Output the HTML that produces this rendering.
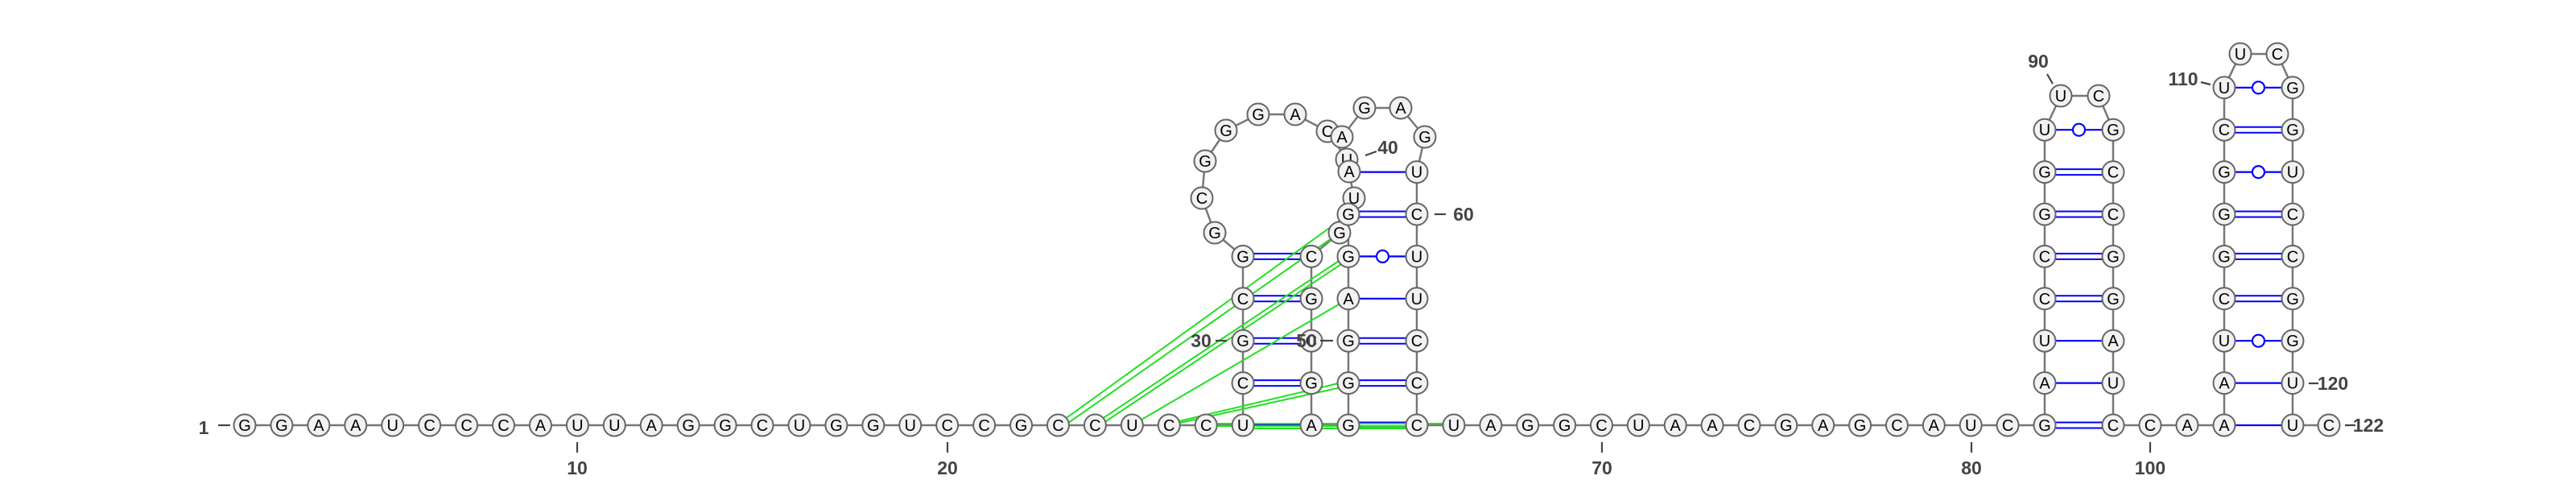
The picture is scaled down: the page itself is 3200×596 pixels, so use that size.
<!DOCTYPE html>
<html><head><meta charset="utf-8"><style>
html,body{margin:0;padding:0;background:#fff;}
svg{display:block;}
text{font-family:"Liberation Sans","DejaVu Sans",sans-serif;}
</style></head><body>
<svg id="svg" width="3200" height="596" viewBox="0 0 3200 596" xmlns="http://www.w3.org/2000/svg">
<g id="bb"></g>
<g id="pairs"></g>
<g id="green"></g>
<g id="nodes"></g>
<g id="labels"></g>
</svg>
<script>
const NS='http://www.w3.org/2000/svg';
const baseSeq="GGAAUCCCAUUAGGCUGGUCCGCCUCCU".split('');
const rowY=[528,475.6,423.2,370.8,318.4,266,213.6,161.2,108.8];
function bx(i){return 304+(i-1)*45.93;}
const N={};
function node(id,x,y,ch){N[id]={x:x,y:y,ch:ch};}
baseSeq.forEach((c,i)=>node('b'+(i+1),bx(i+1),528,c));
// stem1 left column (x=1544) going up
const s1L="CGCG".split('');
s1L.forEach((c,k)=>node('s1L'+k,1544,rowY[k+1],c));
const loop1=[[1509,289,'G'],[1493,246,'C'],[1497,200,'G'],[1523,162,'G'],[1563,142,'G'],[1609,142,'A'],[1649,163,'C']];
loop1.forEach((p,k)=>node('l1_'+k,p[0],p[1],p[2]));
node('u40',1673,198,'U');
node('a41',1667,170,'A');
const loop2=[[1695,134,'G'],[1740,134,'A'],[1770,170,'G']];
loop2.forEach((p,k)=>node('l2_'+k,p[0],p[1],p[2]));
// stem2 right column top->down
const s2R="UCUUCCC".split('');
const s2Ry=[213.6,266,318.4,370.8,423.2,475.6,528];
s2R.forEach((c,k)=>node('s2R'+k,1760,s2Ry[k],c));
// stem1 right column x=1629 top->down
const s1R="CGCGA".split('');
const s1Ry=[318.4,370.8,423.2,475.6,528];
s1R.forEach((c,k)=>node('s1R'+k,1629,s1Ry[k],c));
// stem2 left column x=1675 bottom->up
const s2L="GGGAGG".split('');
s2L.forEach((c,k)=>node('s2L'+k,1675,rowY[k],c));
node('g289',1664,289,'G');
node('a213',1676,213,'A');
node('u246',1682,246,'U');
// baseline after stem2
const mid="UAGGCUAACGAGCAUC".split('');
mid.forEach((c,k)=>node('m'+k,1806+k*45.87,528,c));
// stem3
const s3L="GAUCCGGU".split(''); // bottom-up
s3L.forEach((c,k)=>node('s3L'+k,2540,rowY[k],c));
node('l3_0',2560,119,'U');node('l3_1',2607,119,'C');
const s3R="GCCGGAUC".split(''); // top-down
s3R.forEach((c,k)=>node('s3R'+k,2625,rowY[7-k],c));
node('c100',2671,528,'C');node('a101',2717,528,'A');
const s4L="AAUCGGGCU".split('');
s4L.forEach((c,k)=>node('s4L'+k,2763,rowY[k],c));
node('l4_0',2783,67,'U');node('l4_1',2829,67,'C');
const s4R="GGUCCGGUU".split('');
s4R.forEach((c,k)=>node('s4R'+k,2848,rowY[8-k],c));
node('c122',2893,528,'C');

const chains=[
 [...baseSeq.map((c,i)=>'b'+(i+1)),'s1L0','s1L1','s1L2','s1L3',...loop1.map((p,k)=>'l1_'+k)],
 ['a41','l2_0','l2_1','l2_2','s2R0','s2R1','s2R2','s2R3','s2R4','s2R5','s2R6',...mid.map((c,k)=>'m'+k),
  ...s3L.map((c,k)=>'s3L'+k),'l3_0','l3_1',...s3R.map((c,k)=>'s3R'+k),'c100','a101',...s4L.map((c,k)=>'s4L'+k),'l4_0','l4_1',...s4R.map((c,k)=>'s4R'+k),'c122'],
 ['l1_6','u40','a213','u246','s2L5','s2L4','s2L3','s2L2','s2L1','s2L0'],
 ['a41','u40'],
 ['g289','s1R0','s1R1','s1R2','s1R3','s1R4','s2L0']
];
function line(g,x1,y1,x2,y2,col,w){const l=document.createElementNS(NS,'line');
l.setAttribute('x1',x1);l.setAttribute('y1',y1);l.setAttribute('x2',x2);l.setAttribute('y2',y2);
l.setAttribute('stroke',col);l.setAttribute('stroke-width',w);g.appendChild(l);return l;}
const bb=document.getElementById('bb');
chains.forEach(ch=>{for(let i=0;i<ch.length-1;i++){const a=N[ch[i]],b=N[ch[i+1]];
 const l=line(bb,a.x,a.y,b.x,b.y,'#777',2.5);
 
 }});

// pairs: [leftX,rightX,y,type] type 1 single, 2 double, 3 wobble
const pairList=[
 [1544,1629,528,1],[1544,1629,475.6,2],[1544,1629,423.2,2],[1544,1629,370.8,2],[1544,1629,318.4,2],
 [1675,1760,213.6,1],[1675,1760,266,2],[1675,1760,318.4,3],[1675,1760,370.8,1],[1675,1760,423.2,2],[1675,1760,475.6,2],[1675,1760,528,2],
 [2540,2625,528,2],[2540,2625,475.6,1],[2540,2625,423.2,1],[2540,2625,370.8,2],[2540,2625,318.4,2],[2540,2625,266,2],[2540,2625,213.6,2],[2540,2625,161.2,3],
 [2763,2848,528,1],[2763,2848,475.6,1],[2763,2848,423.2,3],[2763,2848,370.8,2],[2763,2848,318.4,2],[2763,2848,266,2],[2763,2848,213.6,3],[2763,2848,161.2,2],[2763,2848,108.8,3]
];
const pg=document.getElementById('pairs');
pairList.forEach(p=>{
 if(p[3]==2){line(pg,p[0],p[2]-3.5,p[1],p[2]-3.5,'#00f',2);line(pg,p[0],p[2]+3.5,p[1],p[2]+3.5,'#00f',2);}
 else{line(pg,p[0],p[2],p[1],p[2],'#00f',2.2);}
 if(p[3]==3){const c=document.createElementNS(NS,'circle');c.setAttribute('cx',(p[0]+p[1])/2);c.setAttribute('cy',p[2]);
  c.setAttribute('r',7.5);c.setAttribute('fill','#fff');c.setAttribute('stroke','#00f');c.setAttribute('stroke-width',2.2);
  
  
  pg.appendChild(c);}
});
// green pseudoknot lines [x1,y1,x2,y2]
const greenList=[
 [1315,526,1675,266],[1320,530,1664,289],
 [1360,526,1675,316],[1362,531,1675,322],
 [1406,528,1675,371],
 [1452,526,1675,473],[1452,528,1675,479],
 [1498,526,1806,526],[1498,529,1760,529],[1544,532,1760,532]
];
const gg=document.getElementById('green');
greenList.forEach(g=>{const l=line(gg,g[0],g[1],g[2],g[3],'#22e022',2);
 
 });

// draw nodes in order of definition (later on top), with some ordering tweaks
const order=Object.keys(N).filter(k=>k!=='s2L5'&&k!=='a213'&&k!=='a41');
order.splice(order.indexOf('g289')+0,0);
const drawOrder=[...order.filter(k=>k!=='g289'),'g289','s2L5','a41','a213'];
// ensure u40 under a41 and a213; u246 under s2L5
const ng=document.getElementById('nodes');
drawOrder.forEach(k=>{const n=N[k];
 const g=document.createElementNS(NS,'g');
 
 
 const c=document.createElementNS(NS,'circle');c.setAttribute('cx',n.x);c.setAttribute('cy',n.y);c.setAttribute('r',13.5);
 c.setAttribute('fill','#f2f2f2');c.setAttribute('stroke','#666');c.setAttribute('stroke-width',2);g.appendChild(c);
 const t=document.createElementNS(NS,'text');t.setAttribute('x',n.x);t.setAttribute('y',n.y+7);t.setAttribute('text-anchor','middle');
 t.setAttribute('font-size','20');t.setAttribute('fill','#000');t.textContent=n.ch;g.appendChild(t);
 ng.appendChild(g);});

// labels: [text,x,y,tickx1,ticky1,tickx2,ticky2]
const labelList=[
 ['1',253,539,271,528,286,528],
 ['10',717,589,717,549,717,562],['20',1177,589,1177,549,1177,562],
 ['70',1990,589,1990,549,1990,562],['80',2449,589,2449,549,2449,562],['100',2671,589,2671,549,2671,562],
 ['30',1492,431,1510,423,1524,423],['50',1623,431,1640,423,1656,423],
 ['40',1724,191,1696,193,1710,188],['60',1818,274,1782,266,1796,266],
 ['90',2532,84,2543,92,2550,104],['110',2712,106,2734,102,2746,105],
 ['120',2898,484,2868,476,2880,476],['122',2942,536,2913,528,2926,528]
];
const lg=document.getElementById('labels');
labelList.forEach(L=>{line(lg,L[3],L[4],L[5],L[6],'#444',2.2);
 const t=document.createElementNS(NS,'text');t.setAttribute('x',L[1]);t.setAttribute('y',L[2]);
 t.setAttribute('text-anchor','middle');t.setAttribute('font-size','23');t.setAttribute('fill','#444');t.setAttribute('font-weight','bold');
 t.textContent=L[0];
 
 
 lg.appendChild(t);});
</script>
</body></html>
